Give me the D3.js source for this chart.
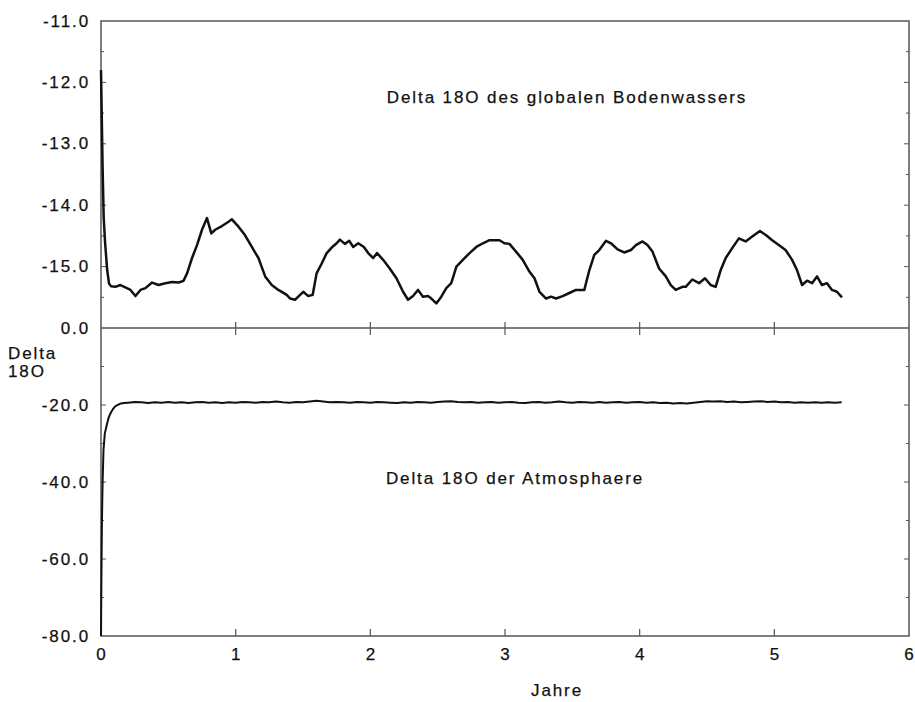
<!DOCTYPE html>
<html>
<head>
<meta charset="utf-8">
<script src="https://cdn.jsdelivr.net/npm/d3@7"></script>
<style>
  html, body { margin: 0; padding: 0; background: #fff; }
  svg { display: block; }
  text { font-family: "Liberation Sans", Arial, Helvetica, sans-serif; fill: #111; }
</style>
</head>
<body>
<svg id="chart" width="915" height="702"></svg>
<script>
// ---------- DATA ----------
const xTickValues = [0, 1, 2, 3, 4, 5, 6];
const xTickLabels = ["0", "1", "2", "3", "4", "5", "6"];
const topTickValues = [-11, -12, -13, -14, -15];
const topTickLabels = ["-11.0", "-12.0", "-13.0", "-14.0", "-15.0"];
const bottomTickValues = [0, -20, -40, -60, -80];
const bottomTickLabels = ["0.0", "-20.0", "-40.0", "-60.0", "-80.0"];

// Delta 18O des globalen Bodenwassers
const bodenYears = [0.0, 0.006, 0.012, 0.02, 0.03, 0.046, 0.06, 0.075, 0.107, 0.144, 0.181, 0.219, 0.256, 0.293, 0.330, 0.379, 0.428, 0.478, 0.527, 0.576, 0.613, 0.639, 0.676, 0.713, 0.750, 0.787, 0.819, 0.848, 0.898, 0.947, 0.972, 1.021, 1.070, 1.120, 1.169, 1.219, 1.268, 1.317, 1.379, 1.404, 1.441, 1.465, 1.502, 1.539, 1.572, 1.601, 1.639, 1.676, 1.713, 1.750, 1.774, 1.811, 1.843, 1.873, 1.910, 1.952, 1.984, 2.021, 2.050, 2.095, 2.144, 2.194, 2.243, 2.280, 2.317, 2.354, 2.391, 2.428, 2.453, 2.490, 2.527, 2.564, 2.601, 2.639, 2.687, 2.737, 2.787, 2.836, 2.885, 2.959, 2.996, 3.033, 3.083, 3.132, 3.181, 3.219, 3.256, 3.305, 3.342, 3.379, 3.428, 3.478, 3.527, 3.589, 3.626, 3.663, 3.700, 3.750, 3.787, 3.836, 3.885, 3.935, 3.972, 4.021, 4.058, 4.096, 4.144, 4.194, 4.231, 4.268, 4.317, 4.342, 4.391, 4.441, 4.485, 4.527, 4.564, 4.601, 4.639, 4.687, 4.737, 4.787, 4.836, 4.893, 4.939, 4.984, 5.033, 5.083, 5.132, 5.169, 5.206, 5.243, 5.280, 5.317, 5.354, 5.391, 5.428, 5.465, 5.502];
const bodenValues = [-11.8, -12.6, -13.4, -14.2, -14.6, -15.06, -15.28, -15.32, -15.33, -15.30, -15.34, -15.38, -15.48, -15.38, -15.35, -15.26, -15.30, -15.27, -15.25, -15.26, -15.23, -15.11, -14.86, -14.65, -14.40, -14.21, -14.46, -14.40, -14.34, -14.27, -14.23, -14.35, -14.49, -14.68, -14.86, -15.16, -15.30, -15.38, -15.46, -15.52, -15.54, -15.49, -15.41, -15.48, -15.46, -15.11, -14.95, -14.78, -14.69, -14.62, -14.56, -14.63, -14.58, -14.68, -14.62, -14.68, -14.78, -14.86, -14.78, -14.89, -15.03, -15.19, -15.41, -15.54, -15.48, -15.38, -15.49, -15.48, -15.52, -15.60, -15.49, -15.35, -15.27, -15.00, -14.89, -14.78, -14.68, -14.62, -14.57, -14.57, -14.62, -14.63, -14.76, -14.89, -15.08, -15.19, -15.41, -15.52, -15.49, -15.52, -15.48, -15.43, -15.38, -15.38, -15.06, -14.81, -14.73, -14.58, -14.62, -14.72, -14.77, -14.73, -14.65, -14.59, -14.65, -14.76, -15.03, -15.16, -15.30, -15.38, -15.33, -15.33, -15.21, -15.27, -15.19, -15.30, -15.33, -15.06, -14.86, -14.70, -14.54, -14.59, -14.51, -14.42, -14.49, -14.57, -14.65, -14.73, -14.89, -15.06, -15.30, -15.23, -15.27, -15.16, -15.30, -15.27, -15.38, -15.41, -15.50];

// Delta 18O der Atmosphaere
const atmYears = [0.0, 0.003, 0.007, 0.012, 0.0185, 0.028, 0.04, 0.055, 0.07, 0.09, 0.107, 0.14, 0.17,
  0.20, 0.25, 0.30, 0.35, 0.40, 0.45, 0.50, 0.55, 0.60, 0.65,
  0.70, 0.75, 0.80, 0.85, 0.90, 0.95, 1.00, 1.05, 1.10, 1.15,
  1.20, 1.25, 1.30, 1.35, 1.40, 1.45, 1.50, 1.55, 1.60, 1.65,
  1.70, 1.75, 1.80, 1.85, 1.90, 1.95, 2.00, 2.05, 2.10, 2.15,
  2.20, 2.25, 2.30, 2.35, 2.40, 2.45, 2.50, 2.55, 2.60, 2.65,
  2.70, 2.75, 2.80, 2.85, 2.90, 2.95, 3.00, 3.05, 3.10, 3.15,
  3.20, 3.25, 3.30, 3.35, 3.40, 3.45, 3.50, 3.55, 3.60, 3.65,
  3.70, 3.75, 3.80, 3.85, 3.90, 3.95, 4.00, 4.05, 4.10, 4.15,
  4.20, 4.25, 4.30, 4.35, 4.40, 4.45, 4.50, 4.55, 4.60, 4.65,
  4.70, 4.75, 4.80, 4.85, 4.90, 4.95, 5.00, 5.05, 5.10, 5.15,
  5.20, 5.25, 5.30, 5.35, 5.40, 5.45, 5.50];
const atmValues = [-80, -65, -50, -40, -31.7, -27.5, -25.6, -23.5, -22.2, -21.0, -20.3, -19.7, -19.5,
  -19.4, -19.2, -19.3, -19.5, -19.3, -19.4, -19.2, -19.4, -19.3, -19.5,
  -19.3, -19.2, -19.4, -19.3, -19.5, -19.3, -19.4, -19.2, -19.3, -19.4,
  -19.2, -19.3, -19.1, -19.3, -19.4, -19.2, -19.3, -19.1, -18.9, -19.1,
  -19.3, -19.2, -19.3, -19.4, -19.2, -19.3, -19.4, -19.2, -19.3, -19.4,
  -19.5, -19.3, -19.4, -19.2, -19.3, -19.4, -19.2, -19.1, -19.0, -19.2,
  -19.3, -19.2, -19.4, -19.3, -19.2, -19.4, -19.3, -19.2, -19.4, -19.5,
  -19.3, -19.2, -19.4, -19.3, -19.1, -19.3, -19.4, -19.2, -19.3, -19.4,
  -19.2, -19.4, -19.3, -19.2, -19.4, -19.3, -19.2, -19.4, -19.3, -19.5,
  -19.4, -19.6, -19.5, -19.6, -19.4, -19.2, -19.0, -19.1, -19.0, -19.2,
  -19.1, -19.3, -19.2, -19.1, -19.0, -19.2, -19.1, -19.3, -19.2, -19.4,
  -19.3, -19.4, -19.3, -19.4, -19.3, -19.4, -19.3];

// ---------- CHART ----------
const svg = d3.select("#chart");
const pLeft = 101, pRight = 909, pTop = 21, pMid = 328, pBottom = 636;
const frameColor = "#555";

const x = d3.scaleLinear().domain([0, 6]).range([pLeft, pRight]);
const yTop = d3.scaleLinear().domain([-16, -11]).range([pMid, pTop]);
const yBot = d3.scaleLinear().domain([-80, 0]).range([pBottom, pMid]);

const g = svg.append("g");

// frame
g.append("rect").attr("x", pLeft).attr("y", pTop).attr("width", pRight - pLeft).attr("height", pBottom - pTop)
  .attr("fill", "none").attr("stroke", frameColor).attr("stroke-width", 1.5);
g.append("line").attr("x1", pLeft).attr("x2", pRight).attr("y1", pMid).attr("y2", pMid)
  .attr("stroke", frameColor).attr("stroke-width", 1.5);

// y ticks top panel (every 0.5)
d3.range(-15.5, -11, 0.5).forEach(v => {
  const major = Number.isInteger(v);
  g.append("line").attr("x1", pLeft).attr("x2", pLeft + (major ? 5 : 3))
    .attr("y1", yTop(v)).attr("y2", yTop(v)).attr("stroke", frameColor).attr("stroke-width", 1);
  g.append("line").attr("x1", pRight).attr("x2", pRight - (major ? 5 : 3))
    .attr("y1", yTop(v)).attr("y2", yTop(v)).attr("stroke", frameColor).attr("stroke-width", 1);
});
// y ticks bottom panel (every 10)
d3.range(-70, 0, 10).forEach(v => {
  const major = v % 20 === 0;
  g.append("line").attr("x1", pLeft).attr("x2", pLeft + (major ? 5 : 3))
    .attr("y1", yBot(v)).attr("y2", yBot(v)).attr("stroke", frameColor).attr("stroke-width", 1);
  g.append("line").attr("x1", pRight).attr("x2", pRight - (major ? 5 : 3))
    .attr("y1", yBot(v)).attr("y2", yBot(v)).attr("stroke", frameColor).attr("stroke-width", 1);
});
// x ticks
xTickValues.slice(1, -1).forEach(v => {
  g.append("line").attr("x1", x(v)).attr("x2", x(v)).attr("y1", pMid - 6).attr("y2", pMid + 7)
    .attr("stroke", frameColor).attr("stroke-width", 1.2);
  g.append("line").attr("x1", x(v)).attr("x2", x(v)).attr("y1", pBottom - 7).attr("y2", pBottom)
    .attr("stroke", frameColor).attr("stroke-width", 1.2);
});

// tick labels
const labelStyle = sel => sel.attr("font-size", 17).attr("letter-spacing", 1.9)
  .attr("stroke", "#111").attr("stroke-width", 0.25);
topTickValues.forEach((v, i) => {
  g.append("text").attr("x", 90).attr("y", yTop(v)).attr("text-anchor", "end")
    .attr("dominant-baseline", "central").text(topTickLabels[i]).call(labelStyle);
});
bottomTickValues.forEach((v, i) => {
  g.append("text").attr("x", 90).attr("y", yBot(v)).attr("text-anchor", "end")
    .attr("dominant-baseline", "central").text(bottomTickLabels[i]).call(labelStyle);
});
xTickValues.forEach((v, i) => {
  g.append("text").attr("x", x(v) + 1).attr("y", 654).attr("text-anchor", "middle")
    .attr("dominant-baseline", "central").text(xTickLabels[i]).call(labelStyle);
});

// axis titles
g.append("text").attr("x", 8).attr("y", 353).attr("dominant-baseline", "central").text("Delta").call(labelStyle);
g.append("text").attr("x", 8).attr("y", 371).attr("dominant-baseline", "central").text("18O").call(labelStyle);
g.append("text").attr("x", 557).attr("y", 690).attr("text-anchor", "middle").attr("dominant-baseline", "central").text("Jahre").call(labelStyle);

// annotations
g.append("text").attr("x", 567).attr("y", 97).attr("text-anchor", "middle").attr("dominant-baseline", "central")
  .text("Delta 18O des globalen Bodenwassers").call(labelStyle);
g.append("text").attr("x", 515).attr("y", 478).attr("text-anchor", "middle").attr("dominant-baseline", "central")
  .text("Delta 18O der Atmosphaere").call(labelStyle);

// lines
const bodenData = bodenYears.map((t, i) => [t, bodenValues[i]]);
const atmData = atmYears.map((t, i) => [t, atmValues[i]]);

g.append("path").datum(bodenData)
  .attr("d", d3.line().x(d => x(d[0])).y(d => yTop(d[1])))
  .attr("fill", "none").attr("stroke", "#111").attr("stroke-width", 2.5).attr("stroke-linejoin", "round");
g.append("path").datum(atmData)
  .attr("d", d3.line().x(d => x(d[0])).y(d => yBot(d[1])))
  .attr("fill", "none").attr("stroke", "#111").attr("stroke-width", 2).attr("stroke-linejoin", "round");
</script>
</body>
</html>
